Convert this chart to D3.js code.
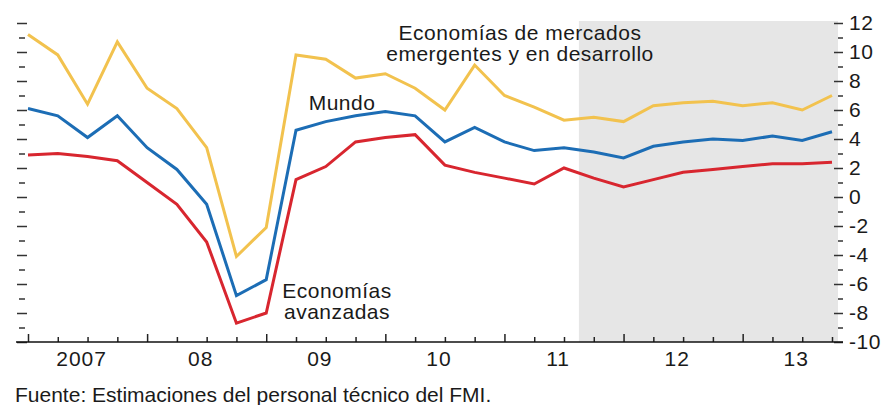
<!DOCTYPE html>
<html>
<head>
<meta charset="utf-8">
<script src="https://cdn.jsdelivr.net/npm/d3@7"></script>
<style>
  body { margin: 0; background: #fff; }
  text { font-family: "Liberation Sans", Arial, sans-serif; fill: #1a1a1a; }
</style>
</head>
<body>
<div id="chart"></div>
<script>
// quarterly, 2007Q1 .. 2013Q4 (annualized growth, %)
const quarters = d3.range(28);
const years = ["2007", "08", "09", "10", "11", "12", "13"];
const emergentes = [11.2, 9.8, 6.4, 10.7, 7.5, 6.1, 3.4, -4.1, -2.1, 9.8, 9.5, 8.2, 8.5, 7.5,
  6.0, 9.1, 7.0, 6.2, 5.3, 5.5, 5.2, 6.3, 6.5, 6.6, 6.3, 6.5, 6.0, 7.0];
const mundo = [6.1, 5.6, 4.1, 5.6, 3.4, 1.9, -0.5, -6.8, -5.7, 4.6, 5.2, 5.6, 5.9, 5.6,
  3.8, 4.8, 3.8, 3.2, 3.4, 3.1, 2.7, 3.5, 3.8, 4.0, 3.9, 4.2, 3.9, 4.5];
const avanzadas = [2.9, 3.0, 2.8, 2.5, 1.0, -0.5, -3.1, -8.7, -8.0, 1.2, 2.1, 3.8, 4.1, 4.3,
  2.2, 1.7, 1.3, 0.9, 2.0, 1.3, 0.7, 1.2, 1.7, 1.9, 2.1, 2.3, 2.3, 2.4];
const projectionStart = 18.5;
const yTicks = d3.range(-10, 13);

const margin = { top: 23, right: 48, bottom: 63, left: 16 },
  width = 886 - margin.left - margin.right,
  height = 405 - margin.top - margin.bottom;

const svg = d3
  .select("#chart")
  .append("svg")
  .attr("width", 886)
  .attr("height", 405)
  .append("g")
  .attr("transform", `translate(${margin.left},${margin.top})`);

const x = d3.scaleLinear().domain([0, 27]).range([12, 816]);
const y = d3.scaleLinear().domain([-10, 12]).range([height, 0]);

// projection shading
svg
  .append("rect")
  .attr("x", x(projectionStart))
  .attr("y", y(12) - 2)
  .attr("width", width - x(projectionStart))
  .attr("height", height - y(12) + 2)
  .attr("fill", "#e6e6e6");

// left ticks (no labels)
const leftLong = svg
  .append("g")
  .attr("transform", "translate(11,0)")
  .call(d3.axisLeft(y).tickValues(yTicks.filter((d) => d % 2 === 0)).tickSize(10).tickFormat(""));
const leftShort = svg
  .append("g")
  .attr("transform", "translate(9,0)")
  .call(d3.axisLeft(y).tickValues(yTicks.filter((d) => d % 2 !== 0)).tickSize(6).tickFormat(""));

// right axis with labels
const rightLong = svg
  .append("g")
  .attr("transform", `translate(${width - 4},0)`)
  .call(
    d3.axisRight(y)
      .tickValues(yTicks.filter((d) => d % 2 === 0))
      .tickSize(9)
      .tickPadding(6)
      .tickFormat((d) => (d < 0 ? "-" + Math.abs(d) : d))
  );
const rightShort = svg
  .append("g")
  .attr("transform", `translate(${width},0)`)
  .call(d3.axisRight(y).tickValues(yTicks.filter((d) => d % 2 !== 0)).tickSize(5).tickFormat(""));

[leftLong, leftShort, rightLong, rightShort].forEach((g) => {
  g.select(".domain").remove();
  g.selectAll("line").attr("stroke", "#333").attr("stroke-width", 1.5);
});
rightLong
  .selectAll("text")
  .attr("font-size", 21)
  .attr("letter-spacing", 0.5)
  .attr("font-family", "Liberation Sans, Arial, sans-serif")
  .attr("fill", "#1a1a1a");

// bottom axis, ticks pointing up
const bottomShort = svg
  .append("g")
  .attr("transform", `translate(0,${height})`)
  .call(d3.axisBottom(x).tickValues(quarters.filter((d) => d % 4 !== 0)).tickSize(-5).tickFormat(""));
const bottomLong = svg
  .append("g")
  .attr("transform", `translate(0,${height})`)
  .call(d3.axisBottom(x).tickValues(quarters.filter((d) => d % 4 === 0)).tickSize(-8).tickFormat(""));
[bottomShort, bottomLong].forEach((g) => {
  g.select(".domain").remove();
  g.selectAll("line").attr("stroke", "#222").attr("stroke-width", 1.5);
});
svg
  .append("line")
  .attr("x1", 0)
  .attr("x2", width + 5)
  .attr("y1", height)
  .attr("y2", height)
  .attr("stroke", "#111")
  .attr("stroke-width", 1.5);

svg
  .append("g")
  .selectAll("text")
  .data(years)
  .join("text")
  .attr("x", (d, i) => x(4 * i + 1.8))
  .attr("y", height + 24)
  .attr("text-anchor", "middle")
  .attr("font-size", 21)
  .attr("letter-spacing", 1)
  .text((d) => d);

// lines
const line = (values) =>
  d3
    .line()
    .x((d, i) => x(i))
    .y((d) => y(d))(values);

const series = [
  { values: emergentes, color: "#f2c24e" },
  { values: mundo, color: "#1c6db5" },
  { values: avanzadas, color: "#d8262f" },
];
svg
  .append("g")
  .selectAll("path")
  .data(series)
  .join("path")
  .attr("d", (d) => line(d.values))
  .attr("fill", "none")
  .attr("stroke", (d) => d.color)
  .attr("stroke-width", 3)
  .attr("stroke-linejoin", "miter");

// series labels
const labels = [
  { lines: ["Economías de mercados", "emergentes y en desarrollo"], x: 520, y: 40 },
  { lines: ["Mundo"], x: 342, y: 110 },
  { lines: ["Economías", "avanzadas"], x: 337, y: 298 },
];
labels.forEach((l) => {
  svg
    .append("text")
    .attr("text-anchor", "middle")
    .attr("font-size", 21)
    .attr("letter-spacing", 0.5)
    .selectAll("tspan")
    .data(l.lines)
    .join("tspan")
    .attr("x", l.x - margin.left)
    .attr("y", (d, i) => l.y - margin.top + i * 21)
    .text((d) => d);
});

svg
  .append("text")
  .attr("x", 15 - margin.left)
  .attr("y", 402 - margin.top)
  .attr("font-size", 21)
  .text("Fuente: Estimaciones del personal técnico del FMI.");
</script>
</body>
</html>
